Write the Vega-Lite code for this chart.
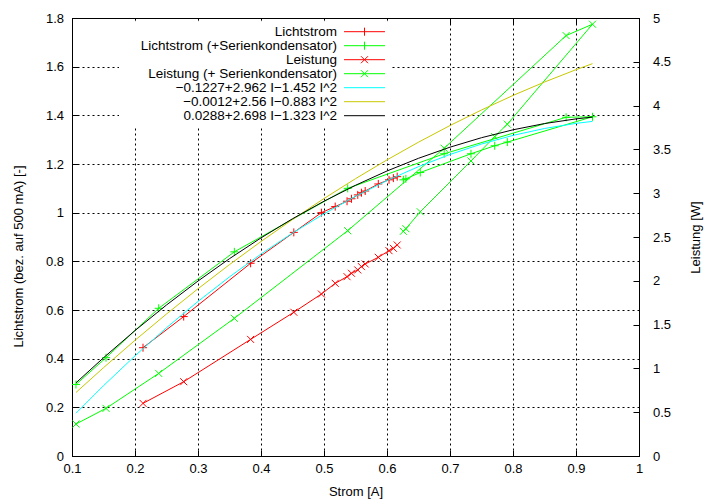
{
  "$schema": "https://vega.github.io/schema/vega-lite/v6.json",
  "width": 567,
  "height": 438,
  "autosize": {"type": "none"},
  "padding": {"left": 72, "top": 18, "right": 74, "bottom": 44},
  "background": "white",
  "config": {
    "view": {"stroke": "black", "strokeWidth": 1},
    "font": "Liberation Sans",
    "axis": {
      "labelFont": "Liberation Sans", "labelFontSize": 13, "labelColor": "black",
      "titleFont": "Liberation Sans", "titleFontSize": 13, "titleFontWeight": "normal", "titleColor": "black",
      "domainColor": "black", "tickColor": "black", "tickSize": -6, "tickWidth": 1,
      "gridColor": "black", "gridDash": [2, 3], "gridOpacity": 1, "gridWidth": 1,
      "labelFlush": false, "labelOverlap": false
    }
  },
  "datasets": {
    "d": [
      {"s": "Lichtstrom", "I": 0.2127, "v": 0.445, "o": 1},
      {"s": "Lichtstrom", "I": 0.2773, "v": 0.573, "o": 2},
      {"s": "Lichtstrom", "I": 0.3835, "v": 0.792, "o": 3},
      {"s": "Lichtstrom", "I": 0.4521, "v": 0.919, "o": 4},
      {"s": "Lichtstrom", "I": 0.4959, "v": 1.000, "o": 5},
      {"s": "Lichtstrom", "I": 0.5178, "v": 1.025, "o": 6},
      {"s": "Lichtstrom", "I": 0.5366, "v": 1.047, "o": 7},
      {"s": "Lichtstrom", "I": 0.5436, "v": 1.057, "o": 8},
      {"s": "Lichtstrom", "I": 0.5536, "v": 1.073, "o": 9},
      {"s": "Lichtstrom", "I": 0.5594, "v": 1.082, "o": 10},
      {"s": "Lichtstrom", "I": 0.5654, "v": 1.089, "o": 11},
      {"s": "Lichtstrom", "I": 0.5862, "v": 1.118, "o": 12},
      {"s": "Lichtstrom", "I": 0.6032, "v": 1.135, "o": 13},
      {"s": "Lichtstrom", "I": 0.6101, "v": 1.142, "o": 14},
      {"s": "Lichtstrom", "I": 0.6162, "v": 1.148, "o": 15},
      {"s": "Lichtstrom (+Serienkondensator)", "I": 0.1063, "v": 0.294, "o": 1},
      {"s": "Lichtstrom (+Serienkondensator)", "I": 0.154, "v": 0.404, "o": 2},
      {"s": "Lichtstrom (+Serienkondensator)", "I": 0.2376, "v": 0.607, "o": 3},
      {"s": "Lichtstrom (+Serienkondensator)", "I": 0.3577, "v": 0.839, "o": 4},
      {"s": "Lichtstrom (+Serienkondensator)", "I": 0.5376, "v": 1.100, "o": 5},
      {"s": "Lichtstrom (+Serienkondensator)", "I": 0.6907, "v": 1.242, "o": 6},
      {"s": "Lichtstrom (+Serienkondensator)", "I": 0.8843, "v": 1.392, "o": 7},
      {"s": "Lichtstrom (+Serienkondensator)", "I": 0.9262, "v": 1.394, "o": 8},
      {"s": "Lichtstrom (+Serienkondensator)", "I": 0.791, "v": 1.290, "o": 9},
      {"s": "Lichtstrom (+Serienkondensator)", "I": 0.771, "v": 1.275, "o": 10},
      {"s": "Lichtstrom (+Serienkondensator)", "I": 0.7333, "v": 1.242, "o": 11},
      {"s": "Lichtstrom (+Serienkondensator)", "I": 0.6528, "v": 1.165, "o": 12},
      {"s": "Lichtstrom (+Serienkondensator)", "I": 0.63, "v": 1.139, "o": 13},
      {"s": "Lichtstrom (+Serienkondensator)", "I": 0.626, "v": 1.135, "o": 14},
      {"s": "Leistung", "I": 0.2127, "v": 0.601, "o": 1},
      {"s": "Leistung", "I": 0.2773, "v": 0.848, "o": 2},
      {"s": "Leistung", "I": 0.3835, "v": 1.331, "o": 3},
      {"s": "Leistung", "I": 0.4521, "v": 1.641, "o": 4},
      {"s": "Leistung", "I": 0.4959, "v": 1.849, "o": 5},
      {"s": "Leistung", "I": 0.5178, "v": 1.971, "o": 6},
      {"s": "Leistung", "I": 0.5366, "v": 2.047, "o": 7},
      {"s": "Leistung", "I": 0.5436, "v": 2.086, "o": 8},
      {"s": "Leistung", "I": 0.5536, "v": 2.124, "o": 9},
      {"s": "Leistung", "I": 0.5594, "v": 2.162, "o": 10},
      {"s": "Leistung", "I": 0.5654, "v": 2.192, "o": 11},
      {"s": "Leistung", "I": 0.5862, "v": 2.268, "o": 12},
      {"s": "Leistung", "I": 0.6032, "v": 2.344, "o": 13},
      {"s": "Leistung", "I": 0.6101, "v": 2.371, "o": 14},
      {"s": "Leistung", "I": 0.6162, "v": 2.409, "o": 15},
      {"s": "Leistung (+ Serienkondensator)", "I": 0.1063, "v": 0.365, "o": 1},
      {"s": "Leistung (+ Serienkondensator)", "I": 0.154, "v": 0.544, "o": 2},
      {"s": "Leistung (+ Serienkondensator)", "I": 0.2376, "v": 0.943, "o": 3},
      {"s": "Leistung (+ Serienkondensator)", "I": 0.3577, "v": 1.572, "o": 4},
      {"s": "Leistung (+ Serienkondensator)", "I": 0.5376, "v": 2.572, "o": 5},
      {"s": "Leistung (+ Serienkondensator)", "I": 0.6907, "v": 3.513, "o": 6},
      {"s": "Leistung (+ Serienkondensator)", "I": 0.8843, "v": 4.799, "o": 7},
      {"s": "Leistung (+ Serienkondensator)", "I": 0.9262, "v": 4.929, "o": 8},
      {"s": "Leistung (+ Serienkondensator)", "I": 0.791, "v": 3.788, "o": 9},
      {"s": "Leistung (+ Serienkondensator)", "I": 0.771, "v": 3.646, "o": 10},
      {"s": "Leistung (+ Serienkondensator)", "I": 0.7333, "v": 3.368, "o": 11},
      {"s": "Leistung (+ Serienkondensator)", "I": 0.6528, "v": 2.788, "o": 12},
      {"s": "Leistung (+ Serienkondensator)", "I": 0.63, "v": 2.595, "o": 13},
      {"s": "Leistung (+ Serienkondensator)", "I": 0.626, "v": 2.565, "o": 14},
      {"s": "−0.1227+2.962 I−1.452 I^2", "I": 0.1063, "v": 0.1758, "o": 1},
      {"s": "−0.1227+2.962 I−1.452 I^2", "I": 0.15, "v": 0.2889, "o": 2},
      {"s": "−0.1227+2.962 I−1.452 I^2", "I": 0.2, "v": 0.4115, "o": 3},
      {"s": "−0.1227+2.962 I−1.452 I^2", "I": 0.25, "v": 0.5271, "o": 4},
      {"s": "−0.1227+2.962 I−1.452 I^2", "I": 0.3, "v": 0.6352, "o": 5},
      {"s": "−0.1227+2.962 I−1.452 I^2", "I": 0.35, "v": 0.7361, "o": 6},
      {"s": "−0.1227+2.962 I−1.452 I^2", "I": 0.4, "v": 0.8298, "o": 7},
      {"s": "−0.1227+2.962 I−1.452 I^2", "I": 0.45, "v": 0.9162, "o": 8},
      {"s": "−0.1227+2.962 I−1.452 I^2", "I": 0.5, "v": 0.9953, "o": 9},
      {"s": "−0.1227+2.962 I−1.452 I^2", "I": 0.55, "v": 1.0672, "o": 10},
      {"s": "−0.1227+2.962 I−1.452 I^2", "I": 0.6, "v": 1.1318, "o": 11},
      {"s": "−0.1227+2.962 I−1.452 I^2", "I": 0.65, "v": 1.1891, "o": 12},
      {"s": "−0.1227+2.962 I−1.452 I^2", "I": 0.7, "v": 1.2392, "o": 13},
      {"s": "−0.1227+2.962 I−1.452 I^2", "I": 0.75, "v": 1.2821, "o": 14},
      {"s": "−0.1227+2.962 I−1.452 I^2", "I": 0.8, "v": 1.3176, "o": 15},
      {"s": "−0.1227+2.962 I−1.452 I^2", "I": 0.85, "v": 1.3459, "o": 16},
      {"s": "−0.1227+2.962 I−1.452 I^2", "I": 0.9, "v": 1.3670, "o": 17},
      {"s": "−0.1227+2.962 I−1.452 I^2", "I": 0.9262, "v": 1.3751, "o": 18},
      {"s": "−0.0012+2.56 I−0.883 I^2", "I": 0.1063, "v": 0.2610, "o": 1},
      {"s": "−0.0012+2.56 I−0.883 I^2", "I": 0.15, "v": 0.3629, "o": 2},
      {"s": "−0.0012+2.56 I−0.883 I^2", "I": 0.2, "v": 0.4755, "o": 3},
      {"s": "−0.0012+2.56 I−0.883 I^2", "I": 0.25, "v": 0.5836, "o": 4},
      {"s": "−0.0012+2.56 I−0.883 I^2", "I": 0.3, "v": 0.6873, "o": 5},
      {"s": "−0.0012+2.56 I−0.883 I^2", "I": 0.35, "v": 0.7866, "o": 6},
      {"s": "−0.0012+2.56 I−0.883 I^2", "I": 0.4, "v": 0.8815, "o": 7},
      {"s": "−0.0012+2.56 I−0.883 I^2", "I": 0.45, "v": 0.9720, "o": 8},
      {"s": "−0.0012+2.56 I−0.883 I^2", "I": 0.5, "v": 1.0581, "o": 9},
      {"s": "−0.0012+2.56 I−0.883 I^2", "I": 0.55, "v": 1.1397, "o": 10},
      {"s": "−0.0012+2.56 I−0.883 I^2", "I": 0.6, "v": 1.2169, "o": 11},
      {"s": "−0.0012+2.56 I−0.883 I^2", "I": 0.65, "v": 1.2897, "o": 12},
      {"s": "−0.0012+2.56 I−0.883 I^2", "I": 0.7, "v": 1.3581, "o": 13},
      {"s": "−0.0012+2.56 I−0.883 I^2", "I": 0.75, "v": 1.4221, "o": 14},
      {"s": "−0.0012+2.56 I−0.883 I^2", "I": 0.8, "v": 1.4817, "o": 15},
      {"s": "−0.0012+2.56 I−0.883 I^2", "I": 0.85, "v": 1.5368, "o": 16},
      {"s": "−0.0012+2.56 I−0.883 I^2", "I": 0.9, "v": 1.5876, "o": 17},
      {"s": "−0.0012+2.56 I−0.883 I^2", "I": 0.9262, "v": 1.6124, "o": 18},
      {"s": "0.0288+2.698 I−1.323 I^2", "I": 0.1063, "v": 0.3007, "o": 1},
      {"s": "0.0288+2.698 I−1.323 I^2", "I": 0.15, "v": 0.4037, "o": 2},
      {"s": "0.0288+2.698 I−1.323 I^2", "I": 0.2, "v": 0.5155, "o": 3},
      {"s": "0.0288+2.698 I−1.323 I^2", "I": 0.25, "v": 0.6206, "o": 4},
      {"s": "0.0288+2.698 I−1.323 I^2", "I": 0.3, "v": 0.7191, "o": 5},
      {"s": "0.0288+2.698 I−1.323 I^2", "I": 0.35, "v": 0.8110, "o": 6},
      {"s": "0.0288+2.698 I−1.323 I^2", "I": 0.4, "v": 0.8963, "o": 7},
      {"s": "0.0288+2.698 I−1.323 I^2", "I": 0.45, "v": 0.9750, "o": 8},
      {"s": "0.0288+2.698 I−1.323 I^2", "I": 0.5, "v": 1.0471, "o": 9},
      {"s": "0.0288+2.698 I−1.323 I^2", "I": 0.55, "v": 1.1125, "o": 10},
      {"s": "0.0288+2.698 I−1.323 I^2", "I": 0.6, "v": 1.1713, "o": 11},
      {"s": "0.0288+2.698 I−1.323 I^2", "I": 0.65, "v": 1.2235, "o": 12},
      {"s": "0.0288+2.698 I−1.323 I^2", "I": 0.7, "v": 1.2691, "o": 13},
      {"s": "0.0288+2.698 I−1.323 I^2", "I": 0.75, "v": 1.3081, "o": 14},
      {"s": "0.0288+2.698 I−1.323 I^2", "I": 0.8, "v": 1.3405, "o": 15},
      {"s": "0.0288+2.698 I−1.323 I^2", "I": 0.85, "v": 1.3662, "o": 16},
      {"s": "0.0288+2.698 I−1.323 I^2", "I": 0.9, "v": 1.3854, "o": 17},
      {"s": "0.0288+2.698 I−1.323 I^2", "I": 0.9262, "v": 1.3928, "o": 18}
    ]
  },
  "data": {"name": "d"},
  "encoding": {
    "color": {
      "field": "s", "type": "nominal",
      "scale": {
        "domain": ["Lichtstrom", "Lichtstrom (+Serienkondensator)", "Leistung", "Leistung (+ Serienkondensator)", "−0.1227+2.962 I−1.452 I^2", "−0.0012+2.56 I−0.883 I^2", "0.0288+2.698 I−1.323 I^2"],
        "range": ["#ff0000", "#00ff00", "#ff0000", "#00ff00", "#00ffff", "#c8c800", "#000000"]
      },
      "legend": {
        "title": null, "orient": "none", "legendX": 47, "legendY": 2.7, "direction": "vertical",
        "rowPadding": 0, "symbolSize": 169, "symbolStrokeWidth": 1, "symbolOffset": 234.5,
        "labelAlign": "right", "labelOffset": -34.5, "labelFont": "Liberation Sans", "labelFontSize": 13.5,
        "labelLimit": 400, "labelColor": "black", "fillColor": "white", "padding": 4, "strokeColor": "white",
        "encode": {
          "symbols": {
            "update": {
              "shape": {"signal": "datum.index < 2 ? 'M-3.15,0H3.15M0,-0.62V0.62' : (datum.index < 4 ? 'M-3.15,0H3.15M-0.54,-0.54L0.54,0.54M-0.54,0.54L0.54,-0.54' : 'M-3.15,0H3.15')"},
              "fill": {"value": "transparent"},
              "stroke": {"scale": "color", "field": "value"},
              "strokeWidth": {"value": 1},
              "opacity": {"value": 1}
            }
          }
        }
      }
    }
  },
  "layer": [
    {
      "transform": [{"filter": {"field": "s", "oneOf": ["Lichtstrom", "Lichtstrom (+Serienkondensator)"]}}],
      "mark": {"type": "line", "strokeWidth": 1},
      "encoding": {
        "x": {"field": "I", "type": "quantitative", "scale": {"domain": [0.1, 1], "nice": false, "zero": false},
          "axis": {"orient": "bottom", "values": [0.1, 0.2, 0.3, 0.4, 0.5, 0.6, 0.7, 0.8, 0.9, 1], "format": "~g", "grid": true, "title": "Strom [A]", "labelPadding": 12, "titlePadding": 10}},
        "y": {"field": "v", "type": "quantitative", "scale": {"domain": [0, 1.8], "nice": false},
          "axis": {"orient": "left", "values": [0, 0.2, 0.4, 0.6, 0.8, 1, 1.2, 1.4, 1.6, 1.8], "format": "~g", "grid": true, "title": "Lichtstrom (bez. auf 500 mA) [-]", "titleX": -54, "titleY": 238, "titleAngle": 270, "titleAlign": "center", "titleBaseline": "middle", "labelPadding": 14.5}},
        "order": {"field": "o", "type": "quantitative"}
      }
    },
    {
      "transform": [{"filter": {"field": "s", "oneOf": ["Lichtstrom", "Lichtstrom (+Serienkondensator)"]}}],
      "mark": {"type": "point", "shape": "M-1,0H1M0,-1V1", "filled": false, "strokeWidth": 1, "size": 64, "opacity": 1},
      "encoding": {
        "x": {"field": "I", "type": "quantitative", "scale": {"domain": [0.1, 1], "nice": false, "zero": false}, "axis": null},
        "y": {"field": "v", "type": "quantitative", "scale": {"domain": [0, 1.8], "nice": false}, "axis": null}
      }
    },
    {
      "transform": [{"filter": {"field": "s", "oneOf": ["Leistung", "Leistung (+ Serienkondensator)"]}}],
      "mark": {"type": "line", "strokeWidth": 1},
      "encoding": {
        "x": {"field": "I", "type": "quantitative", "scale": {"domain": [0.1, 1], "nice": false, "zero": false},
          "axis": {"orient": "top", "values": [0.1, 0.2, 0.3, 0.4, 0.5, 0.6, 0.7, 0.8, 0.9, 1], "labels": false, "grid": false, "title": null}},
        "y": {"field": "v", "type": "quantitative", "scale": {"domain": [0, 5], "nice": false},
          "axis": {"orient": "right", "values": [0, 0.5, 1, 1.5, 2, 2.5, 3, 3.5, 4, 4.5, 5], "format": "~g", "grid": false, "title": "Leistung [W]", "titleAngle": 270, "titleX": 56, "titleY": 219, "titleAlign": "center", "titleBaseline": "middle", "labelPadding": 19.5}},
        "order": {"field": "o", "type": "quantitative"}
      }
    },
    {
      "transform": [{"filter": {"field": "s", "oneOf": ["Leistung", "Leistung (+ Serienkondensator)"]}}],
      "mark": {"type": "point", "shape": "M-1,-1L1,1M-1,1L1,-1", "filled": false, "strokeWidth": 1, "size": 49, "opacity": 1},
      "encoding": {
        "x": {"field": "I", "type": "quantitative", "scale": {"domain": [0.1, 1], "nice": false, "zero": false}, "axis": null},
        "y": {"field": "v", "type": "quantitative", "scale": {"domain": [0, 5], "nice": false}, "axis": null}
      }
    },
    {
      "transform": [{"filter": {"field": "s", "oneOf": ["−0.1227+2.962 I−1.452 I^2", "−0.0012+2.56 I−0.883 I^2", "0.0288+2.698 I−1.323 I^2"]}}],
      "mark": {"type": "line", "strokeWidth": 1},
      "encoding": {
        "x": {"field": "I", "type": "quantitative", "scale": {"domain": [0.1, 1], "nice": false, "zero": false}, "axis": null},
        "y": {"field": "v", "type": "quantitative", "scale": {"domain": [0, 1.8], "nice": false}, "axis": null},
        "order": {"field": "o", "type": "quantitative"}
      }
    }
  ],
  "resolve": {"scale": {"x": "independent", "y": "independent"}, "axis": {"x": "independent", "y": "independent"}}
}
